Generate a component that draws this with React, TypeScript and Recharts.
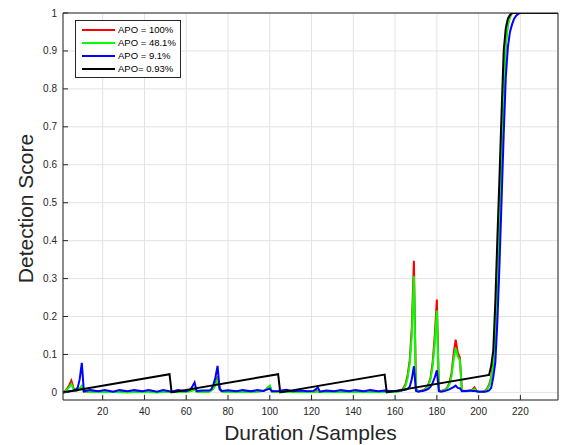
import { LineChart, Line, XAxis, YAxis, CartesianGrid, Legend, Label } from 'recharts';

const FONT = '"Liberation Sans", Arial, Helvetica, sans-serif';
const AXIS_COLOR = '#262626';

// Sample positions of the vertices shared by the three detector traces
const traceSamples = [
  1, 2, 3, 4, 5, 6, 7, 8, 9, 10, 11, 14, 18, 21, 25, 28, 32, 35, 39, 42, 46, 49, 53, 56, 60,
  62, 63, 64, 65, 68, 71, 72, 73, 74, 75, 76, 77, 80, 84, 87, 91, 94, 97, 98, 99, 100, 101,
  104, 108, 111, 115, 118, 121, 122, 123, 124, 127, 131, 134, 138, 141, 145, 148, 152, 155,
  159, 161, 163, 164, 165, 166, 167, 168, 169, 170, 171, 172, 173, 174, 175, 176, 177, 178,
  179, 180, 181, 182, 183, 184, 185, 186, 187, 188, 189, 190, 191, 192, 194, 196, 197, 198,
  199, 200, 202, 203, 204, 205, 206, 207, 208, 209, 210, 211, 212, 213, 214, 215, 216, 217,
  218, 219, 220, 225, 238,
];

const apo100 = [
  0, 0.004, 0.01, 0.019, 0.031, 0.012, 0.004, 0.006, 0.01, 0.016, 0.002, 0.002, 0.001, 0.003,
  0.001, 0.002, 0.001, 0.002, 0.001, 0.002, 0.001, 0.002, 0.001, 0.002, 0.003,
  0.004, 0.006, 0.01, 0.002, 0.002, 0.003, 0.006, 0.012, 0.022, 0.042, 0.012, 0.003, 0.002,
  0.002, 0.003, 0.002, 0.003, 0.004, 0.007, 0.012, 0.016, 0.003,
  0.002, 0.002, 0.001, 0.002, 0.002, 0.002, 0.003, 0.003, 0.001, 0.002, 0.001, 0.002, 0.001,
  0.002, 0.001, 0.002, 0.001, 0.002,
  0.002, 0.003, 0.005, 0.012, 0.022, 0.045, 0.085, 0.17, 0.347, 0.01, 0.004, 0.004, 0.005,
  0.007, 0.012, 0.022, 0.04, 0.08, 0.15, 0.245, 0.005, 0.004, 0.005, 0.008, 0.013, 0.025,
  0.05, 0.1, 0.139, 0.105, 0.092, 0.005, 0.004, 0.005, 0.007, 0.013,
  0.004, 0.002, 0.002, 0.004, 0.01, 0.02, 0.04, 0.075, 0.17, 0.33, 0.5, 0.66, 0.8, 0.92,
  0.97, 0.99, 1, 1, 1, 1, 1, 1, 1,
];

const apo48 = [
  0, 0.003, 0.008, 0.014, 0.022, 0.009, 0.004, 0.006, 0.011, 0.017, 0.002, 0.001, 0.001, 0.002,
  0.001, 0.001, 0, 0.001, 0.001, 0.001, 0, 0.001, 0.001, 0.001, 0.002,
  0.003, 0.005, 0.008, 0.002, 0.001, 0.002, 0.005, 0.01, 0.019, 0.034, 0.01, 0.002, 0.001,
  0.001, 0.001, 0.001, 0.002, 0.004, 0.007, 0.012, 0.018, 0.002,
  0.001, 0.001, 0.001, 0.001, 0.001, 0.001, 0.002, 0.002, 0.001, 0.001, 0.001, 0.001, 0.001,
  0.001, 0.001, 0.001, 0.001, 0.001,
  0.001, 0.002, 0.004, 0.009, 0.018, 0.038, 0.075, 0.15, 0.307, 0.008, 0.003, 0.003, 0.004,
  0.006, 0.01, 0.019, 0.035, 0.07, 0.13, 0.216, 0.004, 0.003, 0.004, 0.007, 0.011, 0.021,
  0.042, 0.085, 0.117, 0.095, 0.085, 0.004, 0.003, 0.004, 0.006, 0.009,
  0.003, 0.002, 0.002, 0.003, 0.008, 0.017, 0.035, 0.07, 0.17, 0.33, 0.5, 0.66, 0.8, 0.92,
  0.97, 0.99, 1, 1, 1, 1, 1, 1, 1,
];

const apo9 = [
  0, 0.001, 0.002, 0.003, 0.004, 0.005, 0.007, 0.012, 0.035, 0.078, 0.003, 0.006, 0.003, 0.006,
  0.002, 0.006, 0.003, 0.006, 0.003, 0.006, 0.002, 0.006, 0.002, 0.006, 0.003,
  0.008, 0.016, 0.026, 0.004, 0.005, 0.005, 0.008, 0.02, 0.04, 0.07, 0.008, 0.004, 0.006,
  0.003, 0.006, 0.003, 0.006, 0.004, 0.006, 0.008, 0.01, 0.003,
  0.004, 0.007, 0.003, 0.005, 0.003, 0.004, 0.008, 0.013, 0.002, 0.005, 0.003, 0.006, 0.003,
  0.006, 0.003, 0.006, 0.003, 0.005,
  0.003, 0.004, 0.005, 0.006, 0.007, 0.009, 0.015, 0.035, 0.069, 0.004, 0.002, 0.003, 0.004,
  0.005, 0.007, 0.01, 0.015, 0.025, 0.04, 0.058, 0.003, 0.002, 0.003, 0.004, 0.006, 0.008,
  0.011, 0.014, 0.018, 0.012, 0.011, 0.003, 0.004, 0.005, 0.004, 0.004,
  0.003, 0.002, 0.002, 0.002, 0.003, 0.005, 0.012, 0.04, 0.08, 0.19, 0.34, 0.51, 0.68, 0.83,
  0.91, 0.95, 0.97, 0.985, 0.993, 0.998, 1, 1, 1,
];

// Sawtooth trace of the lowest APO setting
const sawSamples = [1, 52, 53, 104, 105, 155, 156, 205, 206, 207, 208, 209, 210, 211, 212, 213, 214, 215, 216, 238];
const apo093 = [0, 0.048, 0, 0.048, 0, 0.047, 0, 0.046, 0.07, 0.11, 0.24, 0.41, 0.57, 0.74, 0.9, 0.96, 0.985, 0.995, 1, 1];

const xTicks = [20, 40, 60, 80, 100, 120, 140, 160, 180, 200, 220];
const yTicks = [0, 0.1, 0.2, 0.3, 0.4, 0.5, 0.6, 0.7, 0.8, 0.9, 1];

const toPoints = (xs: number[], ys: number[]) => xs.map((x, i) => ({ x, y: ys[i] }));

const series = [
  { name: 'APO = 100%', color: '#ff0000', data: toPoints(traceSamples, apo100) },
  { name: 'APO = 48.1%', color: '#00ff00', data: toPoints(traceSamples, apo48) },
  { name: 'APO = 9.1%', color: '#0000ff', data: toPoints(traceSamples, apo9) },
  { name: 'APO= 0.93%', color: '#000000', data: toPoints(sawSamples, apo093) },
];

const tickStyle = { fontSize: 10, fill: AXIS_COLOR, fontFamily: FONT };

const LegendBox = ({ payload }: any) => (
  <div
    style={{
      width: 106,
      boxSizing: 'border-box',
      border: `1px solid ${AXIS_COLOR}`,
      background: '#fff',
      padding: '2px 1px 2px 6px',
      fontFamily: FONT,
      fontSize: 9.5,
      color: '#000',
      whiteSpace: 'nowrap',
    }}
  >
    {(payload || []).map((entry: any) => (
      <div key={entry.value} style={{ display: 'flex', alignItems: 'center', height: 13 }}>
        <span style={{ display: 'inline-block', width: 33, height: 2, background: entry.color, marginRight: 3 }} />
        <span>{entry.value}</span>
      </div>
    ))}
  </div>
);

// axis titles are placed from the axis viewBox that recharts hands to the label
const YTitle = ({ viewBox }: any) => {
  const cy = viewBox.y + viewBox.height / 2 + 2;
  const bx = 33;
  return (
    <text
      x={bx}
      y={cy}
      transform={`rotate(-90, ${bx}, ${cy})`}
      textAnchor="middle"
      fontSize={21}
      fontFamily={FONT}
      fill={AXIS_COLOR}
    >
      Detection Score
    </text>
  );
};

const XTitle = ({ viewBox }: any) => (
  <text
    x={viewBox.x + viewBox.width / 2}
    y={440}
    textAnchor="middle"
    fontSize={21}
    fontFamily={FONT}
    fill={AXIS_COLOR}
  >
    Duration /Samples
  </text>
);

export default function App() {
  return (
    <div style={{ position: 'absolute', left: 0, top: 0, width: 563, height: 445, background: '#fff' }}>
      <LineChart width={563} height={445} margin={{ top: 12, right: 4, bottom: 44, left: 62 }}>
        <CartesianGrid stroke="#e3e3e3" strokeWidth={1} />
        <XAxis
          dataKey="x"
          type="number"
          domain={[1, 238]}
          allowDataOverflow
          ticks={xTicks}
          interval={0}
          height={1}
          tickSize={-5}
          tickMargin={13}
          stroke={AXIS_COLOR}
          tick={tickStyle}
        >
          <Label content={<XTitle />} />
        </XAxis>
        <XAxis
          xAxisId="top"
          orientation="top"
          type="number"
          domain={[1, 238]}
          allowDataOverflow
          ticks={xTicks}
          interval={0}
          height={1}
          tickSize={-5}
          tick={false}
          stroke={AXIS_COLOR}
        />
        <YAxis
          type="number"
          domain={[-0.02, 1]}
          allowDataOverflow
          ticks={yTicks}
          interval={0}
          width={1}
          tickSize={-5}
          tickMargin={11}
          stroke={AXIS_COLOR}
          tick={tickStyle}
        >
          <Label content={<YTitle />} />
        </YAxis>
        <YAxis
          yAxisId="right"
          orientation="right"
          type="number"
          domain={[-0.02, 1]}
          allowDataOverflow
          ticks={yTicks}
          interval={0}
          width={1}
          tickSize={-5}
          tick={false}
          stroke={AXIS_COLOR}
        />
        <Legend
          layout="vertical"
          align="center"
          verticalAlign="middle"
          wrapperStyle={{ left: 75, top: 20, width: 'auto', height: 'auto' }}
          content={<LegendBox />}
        />
        {series.map((s) => (
          <Line
            key={s.name}
            data={s.data}
            dataKey="y"
            name={s.name}
            type="linear"
            stroke={s.color}
            strokeWidth={2}
            dot={false}
            activeDot={false}
            isAnimationActive={false}
          />
        ))}
      </LineChart>
    </div>
  );
}
